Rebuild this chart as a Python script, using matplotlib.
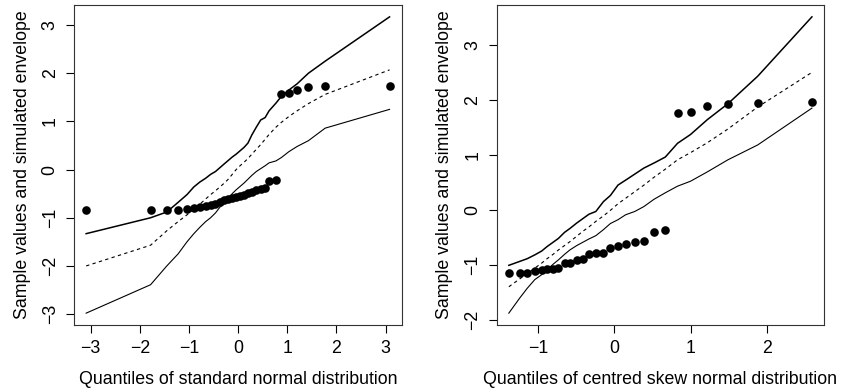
import matplotlib
matplotlib.use("Agg")
import matplotlib.pyplot as plt

plt.rcParams['font.family'] = ['Liberation Sans', 'DejaVu Sans']

# ---------- Left panel: standard normal ----------
left_q = [-3.09, -1.78, -1.45, -1.22, -1.04, -0.90, -0.78, -0.66, -0.56, -0.46,
          -0.37, -0.28, -0.20, -0.12, -0.04, 0.04, 0.12, 0.20, 0.28, 0.37,
          0.46, 0.55, 0.63, 0.77, 0.88, 1.03, 1.20, 1.43, 1.77, 3.08]
left_sample = [-0.84, -0.84, -0.84, -0.84, -0.82, -0.80, -0.78, -0.76, -0.73, -0.71,
               -0.68, -0.64, -0.61, -0.59, -0.57, -0.55, -0.52, -0.49, -0.46, -0.43,
               -0.41, -0.38, -0.24, -0.21, 1.57, 1.59, 1.66, 1.71, 1.73, 1.74]
left_upper = [-1.33, -1.00, -0.88, -0.68, -0.52, -0.36, -0.26, -0.18, -0.10, -0.04,
              0.04, 0.12, 0.19, 0.26, 0.32, 0.39, 0.46, 0.55, 0.72, 0.88,
              1.03, 1.08, 1.22, 1.38, 1.52, 1.65, 1.78, 2.00, 2.25, 3.17]
left_mid = [-2.00, -1.57, -1.27, -1.08, -0.94, -0.82, -0.72, -0.61, -0.52, -0.44,
            -0.36, -0.28, -0.20, -0.10, 0.00, 0.08, 0.15, 0.23, 0.32, 0.42,
            0.52, 0.63, 0.73, 0.88, 0.98, 1.10, 1.22, 1.37, 1.56, 2.07]
left_lower = [-2.98, -2.39, -2.00, -1.75, -1.50, -1.33, -1.20, -1.08, -1.00, -0.90,
              -0.78, -0.70, -0.60, -0.50, -0.42, -0.35, -0.28, -0.20, -0.12, -0.04,
              0.02, 0.08, 0.14, 0.18, 0.25, 0.37, 0.48, 0.60, 0.86, 1.25]
left_xticks = [-3, -2, -1, 0, 1, 2, 3]
left_yticks = [-3, -2, -1, 0, 1, 2, 3]

# ---------- Right panel: centred skew normal ----------
right_q = [-1.38, -1.24, -1.14, -1.04, -0.95, -0.88, -0.80, -0.73, -0.65, -0.58,
           -0.49, -0.41, -0.33, -0.24, -0.14, -0.05, 0.05, 0.15, 0.27, 0.39,
           0.52, 0.67, 0.83, 1.00, 1.22, 1.49, 1.88, 2.59]
right_sample = [-1.14, -1.14, -1.14, -1.11, -1.09, -1.07, -1.07, -1.05, -0.95, -0.95,
                -0.91, -0.89, -0.80, -0.77, -0.77, -0.68, -0.65, -0.61, -0.58, -0.56,
                -0.39, -0.35, 1.78, 1.79, 1.90, 1.94, 1.95, 1.98]
right_upper = [-1.00, -0.93, -0.88, -0.81, -0.74, -0.66, -0.58, -0.51, -0.40, -0.33,
               -0.23, -0.15, -0.07, -0.02, 0.16, 0.27, 0.46, 0.55, 0.66, 0.77,
               0.86, 0.97, 1.22, 1.38, 1.65, 1.94, 2.44, 3.52]
right_mid = [-1.39, -1.25, -1.15, -1.05, -0.96, -0.88, -0.80, -0.72, -0.64, -0.57,
             -0.47, -0.38, -0.30, -0.20, -0.10, 0.00, 0.12, 0.22, 0.34, 0.46,
             0.60, 0.75, 0.92, 1.05, 1.23, 1.48, 1.88, 2.51]
right_lower = [-1.87, -1.60, -1.42, -1.26, -1.17, -1.08, -0.98, -0.90, -0.80, -0.72,
               -0.64, -0.58, -0.52, -0.46, -0.35, -0.24, -0.17, -0.08, -0.02, 0.07,
               0.20, 0.32, 0.44, 0.53, 0.70, 0.92, 1.19, 1.86]
right_xticks = [-1, 0, 1, 2]
right_yticks = [-2, -1, 0, 1, 2, 3]

ylabel = "Sample values and simulated envelope"
xlabels = ["Quantiles of standard normal distribution",
           "Quantiles of centred skew normal distribution"]

fig = plt.figure(figsize=(8.43, 3.92), dpi=100)
ax1 = fig.add_axes([0.0878, 0.1709, 0.3887, 0.8163])
ax2 = fig.add_axes([0.5892, 0.1709, 0.3883, 0.8163])

FS = 12.8


def rng(v):
    lo, hi = min(v), max(v)
    d = (hi - lo) * 0.04
    return lo - d, hi + d


def panel(ax, q, s, up, mid, lo, xt, yt, xlab):
    ax.plot(q, up, color='black', lw=1.1, solid_joinstyle='round')
    ax.plot(q, mid, color='black', lw=0.8, dashes=(3, 3))
    ax.plot(q, lo, color='black', lw=0.8)
    ax.plot(q, s, 'o', color='black', markersize=6.2, markeredgewidth=0)
    ax.set_xlim(*rng(q))
    ax.set_ylim(*rng(list(s) + list(up) + list(lo)))
    ax.set_xticks(xt)
    ax.set_yticks(yt)
    ax.set_xticklabels([str(t).replace('-', '\u2212') for t in xt])
    ax.set_yticklabels([str(t).replace('-', '\u2212') for t in yt],
                       rotation=90, va='center')
    ax.tick_params(axis='both', direction='out', length=6, width=0.8,
                   labelsize=FS, color='black')
    ax.tick_params(axis='x', pad=5)
    ax.tick_params(axis='y', pad=5)
    for sp in ax.spines.values():
        sp.set_linewidth(0.8)
        sp.set_color('#333333')
    ax.set_xlabel(xlab, fontsize=FS, labelpad=10)
    ax.set_ylabel(ylabel, fontsize=FS, labelpad=8)


panel(ax1, left_q, left_sample, left_upper, left_mid, left_lower,
      left_xticks, left_yticks, xlabels[0])
panel(ax2, right_q, right_sample, right_upper, right_mid, right_lower,
      right_xticks, right_yticks, xlabels[1])

fig.savefig("out.png", dpi=100)
